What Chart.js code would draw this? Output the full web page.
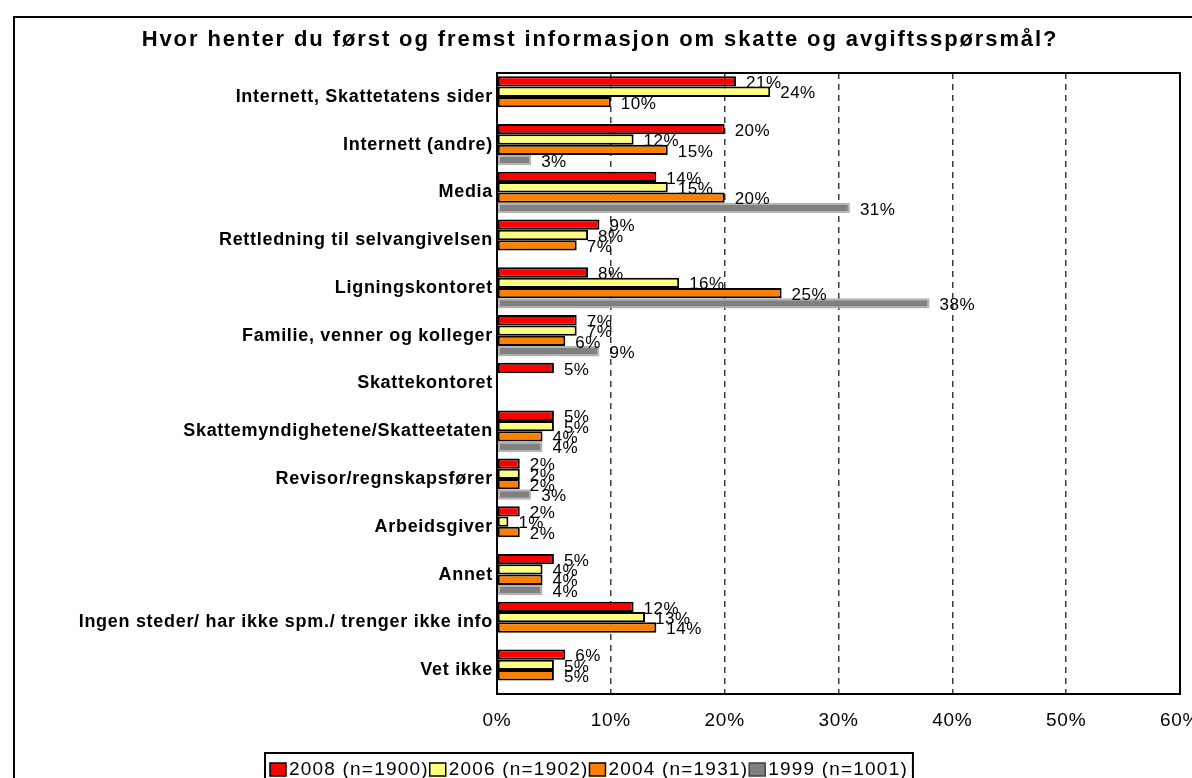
<!DOCTYPE html>
<html>
<head>
<meta charset="utf-8">
<script src="https://cdn.jsdelivr.net/npm/chart.js@4.4.0/dist/chart.umd.min.js"></script>
<style>
html,body{margin:0;padding:0;background:#fff;overflow:hidden;}
#wrap{position:relative;width:1192px;height:778px;overflow:hidden;}
#frame{position:absolute;left:13px;top:16px;width:1300px;height:900px;border:2px solid #000;box-sizing:border-box;}
canvas{position:absolute;left:0;top:0;}
</style>
</head>
<body>
<div id="wrap"><div id="frame"></div><canvas id="c" width="1192" height="778"></canvas></div>
<script>
const chartTitle = 'Hvor henter du først og fremst informasjon om skatte og avgiftsspørsmål?';
const categories = [
  'Internett, Skattetatens sider',
  'Internett (andre)',
  'Media',
  'Rettledning til selvangivelsen',
  'Ligningskontoret',
  'Familie, venner og kolleger',
  'Skattekontoret',
  'Skattemyndighetene/Skatteetaten',
  'Revisor/regnskapsfører',
  'Arbeidsgiver',
  'Annet',
  'Ingen steder/ har ikke spm./ trenger ikke info',
  'Vet ikke'
];
const seriesNames = ['2008 (n=1900)', '2006 (n=1902)', '2004 (n=1931)', '1999 (n=1001)'];
const values2008 = [21, 20, 14, 9, 8, 7, 5, 5, 2, 2, 5, 12, 6];
const values2006 = [24, 12, 15, 8, 16, 7, null, 5, 2, 1, 4, 13, 5];
const values2004 = [10, 15, 20, 7, 25, 6, null, 4, 2, 2, 4, 14, 5];
const values1999 = [null, 3, 31, null, 38, 9, null, 4, 3, null, 4, null, null];
const xTickValues = [0, 10, 20, 30, 40, 50, 60];

const fills = ['#FF0000', '#FFFF80', '#FF8000', '#808080'];
const borders = ['#000000', '#000000', '#000000', '#B4B4B4'];
const allValues = [values2008, values2006, values2004, values1999];

const FONT = '"Liberation Sans", Arial, sans-serif';

const decor = {
  id: 'decor',
  beforeDraw(chart) {
    chart.ctx.letterSpacing = '0.7px';
  },
  afterDatasetsDraw(chart) {
    const ctx = chart.ctx;
    const a = chart.chartArea;
    ctx.save();
    ctx.strokeStyle = '#000';
    ctx.lineWidth = 2;
    ctx.strokeRect(a.left, a.top, a.right - a.left, a.bottom - a.top);
    ctx.letterSpacing = '0.5px';
    ctx.font = '17px ' + FONT;
    ctx.fillStyle = '#000';
    ctx.textAlign = 'left';
    ctx.textBaseline = 'middle';
    chart.data.datasets.forEach((ds, i) => {
      const meta = chart.getDatasetMeta(i);
      meta.data.forEach((el, j) => {
        const v = ds.data[j];
        if (v === null || v === undefined) return;
        ctx.fillText(v + '%', el.x + 10, el.y + 2);
      });
    });
    ctx.restore();
  },
  afterDraw(chart) {
    const ctx = chart.ctx;
    ctx.save();
    ctx.font = 'bold 22px ' + FONT;
    ctx.letterSpacing = '1.9px';
    ctx.fillStyle = '#000';
    ctx.textAlign = 'center';
    ctx.textBaseline = 'middle';
    ctx.fillText(chartTitle, 600, 40);
    ctx.font = '19px ' + FONT;
    ctx.letterSpacing = '1.2px';
    ctx.textAlign = 'left';
    let x = 270;
    const yBox = 763;
    seriesNames.forEach((name, i) => {
      ctx.fillStyle = fills[i];
      ctx.fillRect(x, yBox, 16, 13);
      ctx.strokeStyle = i === 3 ? '#404040' : '#000';
      ctx.lineWidth = 1.5;
      ctx.strokeRect(x, yBox, 16, 13);
      ctx.fillStyle = '#000';
      ctx.fillText(name, x + 19, yBox + 7);
      x += 19 + ctx.measureText(name).width + 1;
    });
    ctx.strokeStyle = '#000';
    ctx.lineWidth = 2;
    ctx.strokeRect(265, 753, x + 4 - 265, 60);
    ctx.restore();
    ctx.letterSpacing = '0px';
  }
};

new Chart(document.getElementById('c'), {
  type: 'bar',
  data: {
    labels: categories,
    datasets: allValues.map((vals, i) => ({
      label: seriesNames[i],
      data: vals,
      backgroundColor: fills[i],
      borderColor: borders[i],
      borderWidth: 2,
      borderSkipped: false,
      barPercentage: 1.0,
      categoryPercentage: 0.865
    }))
  },
  options: {
    indexAxis: 'y',
    responsive: false,
    animation: false,
    devicePixelRatio: 1,
    layout: { padding: { left: 0, right: 12, top: 73, bottom: 0 } },
    plugins: {
      legend: { display: false },
      title: { display: false },
      tooltip: { enabled: false }
    },
    scales: {
      x: {
        min: 0,
        max: 60,
        afterBuildTicks(scale) {
          scale.ticks = xTickValues.map(v => ({ value: v }));
        },
        afterFit(scale) {
          scale.height = 84;
          scale.paddingLeft = 0;
          scale.paddingRight = 0;
        },
        ticks: {
          callback: v => v + '%',
          font: { family: FONT, size: 19 },
          color: '#000',
          padding: 15,
          maxRotation: 0,
          autoSkip: false
        },
        grid: {
          drawTicks: false,
          lineWidth: 1.5,
          color: c => (c.tick && (c.tick.value === 0 || c.tick.value === 60)) ? 'rgba(0,0,0,0)' : '#3c3c3c'
        },
        border: { display: false, dash: [6, 5] }
      },
      y: {
        afterFit(scale) {
          scale.width = 497;
          scale.paddingTop = 0;
          scale.paddingBottom = 0;
        },
        ticks: {
          font: { family: FONT, size: 18, weight: 'bold' },
          color: '#000',
          padding: 4,
          autoSkip: false
        },
        grid: { display: false, drawTicks: false },
        border: { display: false }
      }
    }
  },
  plugins: [decor]
});
</script>
</body>
</html>
